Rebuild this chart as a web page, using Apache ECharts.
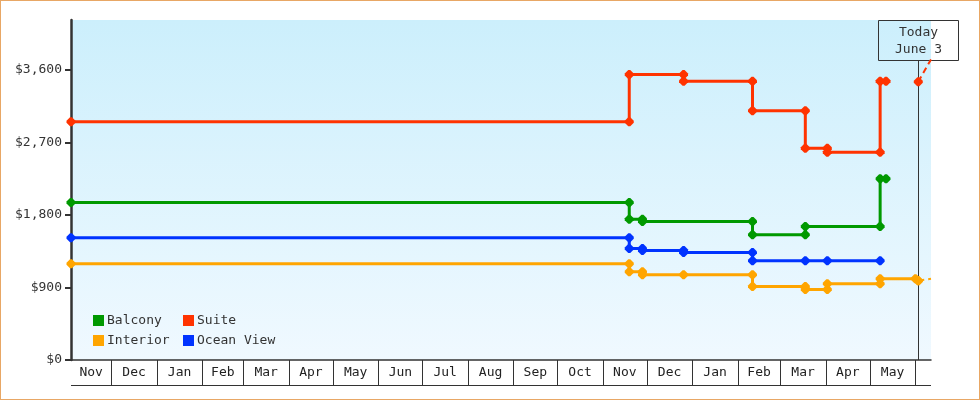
<!DOCTYPE html>
<html>
<head>
<meta charset="utf-8">
<script src="https://cdn.jsdelivr.net/npm/echarts@6/dist/echarts.min.js"></script>
<style>
html,body{margin:0;padding:0;background:#fff;}
#wrap{position:relative;width:980px;height:400px;}
#chart{position:absolute;left:0;top:0;width:980px;height:400px;}
#frame{position:absolute;left:0;top:0;width:980px;height:400px;box-sizing:border-box;border:1px solid #E8A765;pointer-events:none;}
</style>
</head>
<body>
<div id="wrap"><div id="chart"></div><div id="frame"></div></div>
<script>
// ---- data ----
const axisStart = '2022-11-03 12:00';
const axisEnd = '2024-06-11 16:00';
const todayDate = '2024-06-03';
const todayText = ['Today', 'June 3'];

const yTicks = [0, 900, 1800, 2700, 3600];
const yMax = 4220;

const monthStarts = ['2022-11-01','2022-12-01','2023-01-01','2023-02-01','2023-03-01','2023-04-01','2023-05-01','2023-06-01','2023-07-01','2023-08-01','2023-09-01','2023-10-01','2023-11-01','2023-12-01','2024-01-01','2024-02-01','2024-03-01','2024-04-01','2024-05-01','2024-06-01'];
const monthEnds = ['2022-12-01','2023-01-01','2023-02-01','2023-03-01','2023-04-01','2023-05-01','2023-06-01','2023-07-01','2023-08-01','2023-09-01','2023-10-01','2023-11-01','2023-12-01','2024-01-01','2024-02-01','2024-03-01','2024-04-01','2024-05-01','2024-06-01','2024-07-01'];
const monthLabels = ['Nov','Dec','Jan','Feb','Mar','Apr','May','Jun','Jul','Aug','Sep','Oct','Nov','Dec','Jan','Feb','Mar','Apr','May','Jun'];

const balcony = [
  [axisStart, 1955], ['2023-11-19', 1955], ['2023-11-19', 1748], ['2023-11-28', 1748], ['2023-11-28', 1719],
  ['2024-02-11', 1719], ['2024-02-11', 1554], ['2024-03-18', 1554], ['2024-03-18', 1657],
  ['2024-05-08', 1657], ['2024-05-08', 2249], ['2024-05-12', 2249]
];
const suite = [
  [axisStart, 2958], ['2023-11-19', 2958], ['2023-11-19', 3544], ['2023-12-26', 3544], ['2023-12-26', 3461],
  ['2024-02-11', 3461], ['2024-02-11', 3094], ['2024-03-18', 3094], ['2024-03-18', 2629],
  ['2024-04-02', 2629], ['2024-04-02', 2580], ['2024-05-08', 2580], ['2024-05-08', 3461], ['2024-05-12', 3461]
];
const interior = [
  [axisStart, 1194], ['2023-11-19', 1194], ['2023-11-19', 1095], ['2023-11-28', 1095], ['2023-11-28', 1058],
  ['2023-12-26', 1058], ['2024-02-11', 1058], ['2024-02-11', 912], ['2024-03-18', 912], ['2024-03-18', 875],
  ['2024-04-02', 875], ['2024-04-02', 946], ['2024-05-08', 946], ['2024-05-08', 1008], ['2024-06-01', 1008],
  ['2024-06-03', 985]
];
const oceanView = [
  [axisStart, 1517], ['2023-11-19', 1517], ['2023-11-19', 1384], ['2023-11-28', 1384], ['2023-11-28', 1359],
  ['2023-12-26', 1359], ['2023-12-26', 1334], ['2024-02-11', 1334], ['2024-02-11', 1231],
  ['2024-03-18', 1231], ['2024-04-02', 1231], ['2024-05-08', 1231]
];
const suiteForecast = [['2024-06-03', 3454], [axisEnd, 3730]];
const interiorForecast = [['2024-06-03', 985], [axisEnd, 1008]];

// ---- styles ----
const FONT = '"DejaVu Sans Mono", monospace';
const colors = { Balcony: '#009900', Suite: '#FF3300', Interior: '#FFA500', 'Ocean View': '#0033FF' };
const MARK = 'path://M3.5,0 L5.5,0 L9,3.5 L9,5.5 L5.5,9 L3.5,9 L0,5.5 L0,3.5 Z';

function lineSeries(name, data) {
  return {
    name, type: 'line', data, z: 3,
    symbol: MARK, symbolSize: 9, showAllSymbol: true,
    lineStyle: { width: 3, color: colors[name] },
    itemStyle: { color: colors[name] },
    emphasis: { disabled: true }
  };
}
function forecastSeries(name, color, data) {
  return {
    name, type: 'line', z: 3,
    data: data.map((d, i) => i === 0 ? { value: d } : { value: d, symbol: 'none' }),
    symbol: MARK, symbolSize: 9, showAllSymbol: true,
    lineStyle: { width: 2, color, type: [6, 4] },
    itemStyle: { color },
    emphasis: { disabled: true }
  };
}

const chart = echarts.init(document.getElementById('chart'), null, { renderer: 'canvas' });

const legendCommon = {
  orient: 'vertical', top: 314, itemWidth: 11, itemHeight: 11, itemGap: 7, padding: 0,
  icon: 'rect', selectedMode: false,
  textStyle: { fontFamily: FONT, fontSize: 13, color: '#333', padding: [0, 0, 0, -2] }
};

chart.setOption({
  animation: false,
  grid: {
    left: 71, right: 49, top: 20, bottom: 40,
    show: true, borderWidth: 0,
    backgroundColor: new echarts.graphic.LinearGradient(0, 0, 0, 1, [
      { offset: 0, color: '#CCEFFC' }, { offset: 1, color: '#F0F9FF' }
    ])
  },
  legend: [
    Object.assign({}, legendCommon, { left: 93, data: ['Balcony', 'Interior'] }),
    Object.assign({}, legendCommon, { left: 183, data: ['Suite', 'Ocean View'] })
  ],
  xAxis: {
    type: 'time', min: axisStart, max: axisEnd,
    axisLine: { show: true, onZero: false, lineStyle: { color: '#333', width: 1.5 } },
    axisTick: { show: false }, axisLabel: { show: false }, splitLine: { show: false }
  },
  yAxis: {
    type: 'value', min: 0, max: yMax,
    axisLine: { show: true, lineStyle: { color: '#333', width: 2.5 } },
    axisTick: { show: true, customValues: yTicks, length: 6, lineStyle: { color: '#333', width: 2 } },
    axisLabel: {
      customValues: yTicks, margin: 9, fontFamily: FONT, fontSize: 13, color: '#333',
      formatter: v => '$' + Number(v).toLocaleString('en-US')
    },
    splitLine: { show: false }
  },
  series: [
    {
      type: 'custom', name: 'months', silent: true, clip: false, z: 1,
      dimensions: [{ name: 's', type: 'time' }, { name: 'e', type: 'time' }, { name: 'y', type: 'float' }, { name: 'i', type: 'int' }],
      encode: { x: [0, 1], y: 2 },
      data: monthStarts.map((s, i) => [s, monthEnds[i], 0, i]),
      renderItem(params, api) {
        const cs = params.coordSys;
        const i = api.value(3);
        const y0 = cs.y + cs.height;
        const xs = api.coord([api.value(0), 0])[0];
        const xe = api.coord([api.value(1), 0])[0];
        const left = cs.x, right = cs.x + cs.width;
        const x1 = Math.max(xs, left), x2 = Math.min(xe, right);
        const children = [];
        if (xs > left + 0.5 && xs < right) {
          const px = Math.round(xs) + 0.5;
          children.push({ type: 'line', shape: { x1: px, y1: y0, x2: px, y2: y0 + 25 }, style: { stroke: '#333', lineWidth: 1 } });
        }
        if (x2 - x1 > 28) {
          children.push({ type: 'text', style: {
            text: monthLabels[i], x: (x1 + x2) / 2, y: y0 + 13,
            align: 'center', verticalAlign: 'middle', textAlign: 'center', textVerticalAlign: 'middle',
            fontFamily: FONT, fontSize: 13, fill: '#222'
          } });
        }
        if (i === 0) {
          children.push({ type: 'line', shape: { x1: left, y1: y0 + 25.5, x2: right, y2: y0 + 25.5 }, style: { stroke: '#333', lineWidth: 1 } });
        }
        return { type: 'group', children };
      }
    },
    {
      type: 'custom', name: 'today', silent: true, clip: false, z: 2,
      dimensions: [{ name: 't', type: 'time' }, { name: 'y', type: 'float' }],
      encode: { x: 0, y: 1 },
      data: [[todayDate, 0]],
      renderItem(params, api) {
        const cs = params.coordSys;
        const x = Math.round(api.coord([api.value(0), 0])[0]) + 0.5;
        const top = cs.y, bottom = cs.y + cs.height;
        const txt = (t, y) => ({ type: 'text', style: {
          text: t, x: x, y: y, align: 'center', verticalAlign: 'middle', textAlign: 'center', textVerticalAlign: 'middle',
          fontFamily: FONT, fontSize: 13, fill: '#333'
        } });
        return { type: 'group', children: [
          { type: 'line', shape: { x1: x, y1: top + 40, x2: x, y2: bottom }, style: { stroke: '#333', lineWidth: 1 } },
          { type: 'rect', shape: { x: x - 40, y: top + 0.5, width: 80, height: 40 }, style: { fill: 'none', stroke: '#333', lineWidth: 1 } },
          txt(todayText[0], top + 13),
          txt(todayText[1], top + 30)
        ] };
      }
    },
    lineSeries('Suite', suite),
    lineSeries('Balcony', balcony),
    lineSeries('Ocean View', oceanView),
    lineSeries('Interior', interior),
    forecastSeries('Suite forecast', colors.Suite, suiteForecast),
    forecastSeries('Interior forecast', colors.Interior, interiorForecast)
  ]
});
</script>
</body>
</html>
